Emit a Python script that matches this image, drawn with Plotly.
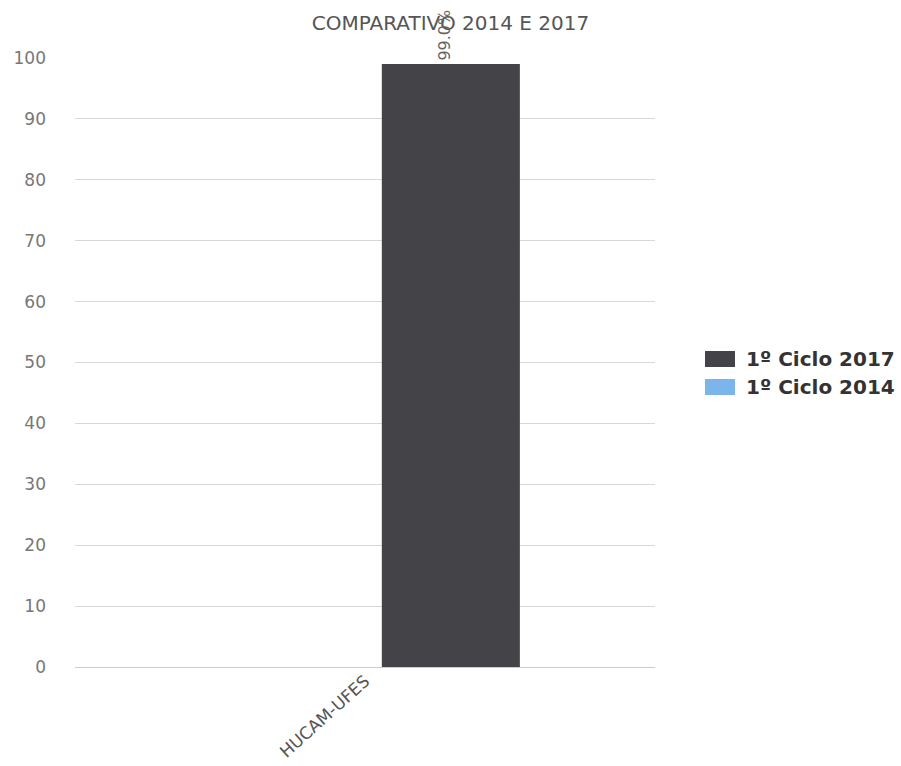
import plotly.graph_objects as go

categories = ["HUCAM-UFES"]
ciclo_2017 = [99.0]
ciclo_2014 = [None]
series_names = ["1º Ciclo 2017", "1º Ciclo 2014"]
series_colors = ["#434348", "#7cb5ec"]
value_labels = ["99.0%"]
title_text = "COMPARATIVO 2014 E 2017"
y_ticks = [0, 10, 20, 30, 40, 50, 60, 70, 80, 90, 100]

font_family = "DejaVu Sans, Verdana, sans-serif"

fig = go.Figure()
fig.add_trace(go.Bar(
    x=categories, y=ciclo_2017, name=series_names[0],
    marker=dict(color=series_colors[0], line=dict(width=0)),
    width=0.238, offset=0.029, showlegend=False,
))
fig.add_trace(go.Bar(
    x=categories, y=ciclo_2014, name=series_names[1],
    marker=dict(color=series_colors[1], line=dict(width=0)),
    width=0.238, offset=-0.27, showlegend=False,
))

# rotated value label above the bar
for cat, val, lab in zip(categories, ciclo_2017, value_labels):
    fig.add_annotation(
        x=cat, y=val, xref="x", yref="y", text=lab, showarrow=False,
        textangle=-90, xanchor="center", yanchor="bottom",
        xshift=80, yshift=1,
        font=dict(family=font_family, size=16, color="#666666"),
    )

# legend: colour swatches with bold labels to the right of the plot
W, H = 901, 766
legend_top = 351
row_step = 28
for i, (name, color) in enumerate(zip(series_names, series_colors)):
    y0 = legend_top + i * row_step
    fig.add_shape(
        type="rect", xref="paper", yref="paper",
        x0=(705 - 75) / 580, x1=(735 - 75) / 580,
        y0=(667 - (y0 + 16)) / 609, y1=(667 - y0) / 609,
        fillcolor=color, line=dict(width=0),
    )
    fig.add_annotation(
        xref="paper", yref="paper",
        x=(744 - 75) / 580, y=(667 - (y0 + 8)) / 609,
        text=f"<b>{name}</b>", showarrow=False,
        xanchor="left", yanchor="middle",
        font=dict(family=font_family, size=20, color="#333333"),
    )

fig.update_layout(
    width=W, height=H,
    margin=dict(l=75, r=246, t=58, b=99),
    paper_bgcolor="white", plot_bgcolor="white",
    barmode="group",
    title=dict(
        text=title_text, x=0.5, xanchor="center", xref="container",
        y=1 - 23 / H, yanchor="middle",
        font=dict(family=font_family, size=20, color="#555555"),
    ),
    showlegend=False,
)
fig.update_xaxes(
    type="category", range=[-0.5, 0.5], automargin=False,
    showgrid=False, showline=False, zeroline=False,
    tickangle=-42, ticks="",
    tickfont=dict(family=font_family, size=17, color="#555555"),
)
fig.update_yaxes(
    range=[0, 100], tickvals=y_ticks, automargin=False,
    showgrid=True, gridcolor="#d8d8d8", gridwidth=1,
    zeroline=True, zerolinecolor="#cccccc", zerolinewidth=1,
    showline=False, ticks="",
    ticklabelstandoff=28,
    tickfont=dict(family=font_family, size=17, color="#777777"),
)

fig.write_html("out.html")
